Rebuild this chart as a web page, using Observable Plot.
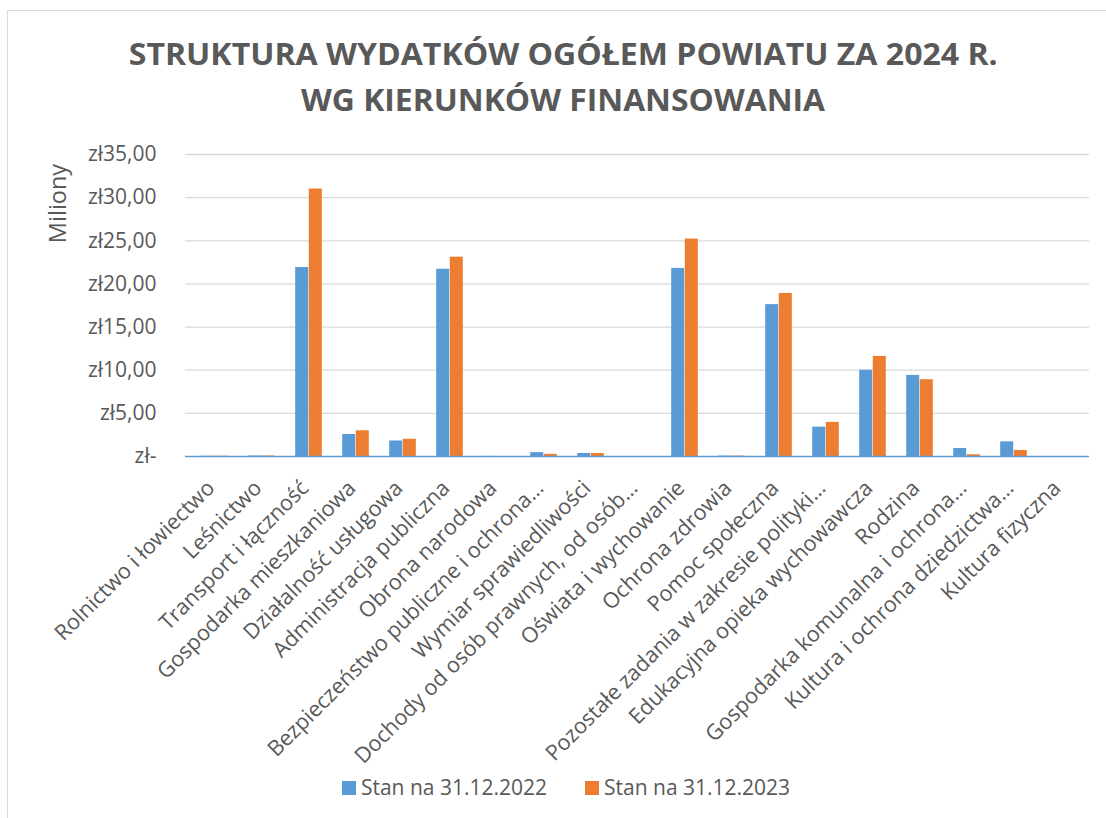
<!DOCTYPE html>
<html><head><meta charset="utf-8">
<script src="https://cdn.jsdelivr.net/npm/d3@7"></script>
<script src="https://cdn.jsdelivr.net/npm/@observablehq/plot@0.6"></script>
<style>
body{margin:0;background:#fff;font-family:"Open Sans",sans-serif;color:#595959;width:1106px;height:818px;overflow:hidden;position:relative;}
#frame{position:absolute;left:7px;top:10px;width:1200px;height:900px;border-left:1px solid #d9d9d9;border-top:1px solid #d9d9d9;}
.tl{position:absolute;left:0;width:1126px;text-align:center;font-weight:700;font-size:31px;line-height:31px;white-space:nowrap;color:#595959;}
.tl span{display:inline-block;transform-origin:center;}
#chart{position:absolute;left:0;top:130px;}
#legend{position:absolute;left:0;top:777px;width:1132px;display:flex;justify-content:center;font-size:21px;line-height:21px;color:#595959;}
#legend .it{display:flex;align-items:center;margin:0 19px;}
#legend .sw{width:14px;height:14px;margin-right:5px;}
</style></head>
<body>
<div id="frame"></div>
<div class="tl" style="top:37.5px"><span id="t1">STRUKTURA WYDATKÓW OGÓŁEM POWIATU ZA 2024 R.</span></div>
<div class="tl" style="top:83.5px"><span id="t2">WG KIERUNKÓW FINANSOWANIA</span></div>
<div id="chart"></div>
<div id="legend"></div>
<script>
const categories = [
  "Rolnictwo i łowiectwo","Leśnictwo","Transport i łączność","Gospodarka mieszkaniowa",
  "Działalność usługowa","Administracja publiczna","Obrona narodowa",
  "Bezpieczeństwo publiczne i ochrona…","Wymiar sprawiedliwości",
  "Dochody od osób prawnych, od osób…","Oświata i wychowanie","Ochrona zdrowia",
  "Pomoc społeczna","Pozostałe zadania w zakresie polityki…","Edukacyjna opieka wychowawcza",
  "Rodzina","Gospodarka komunalna i ochrona…","Kultura i ochrona dziedzictwa…","Kultura fizyczna"
];
const seriesNames = ["Stan na 31.12.2022","Stan na 31.12.2023"];
const values2022 = [0.03,0.06,21.9,2.55,1.8,21.7,0.01,0.45,0.35,0,21.8,0.05,17.6,3.4,10.0,9.4,0.93,1.7,0];
const values2023 = [0.03,0.06,31.0,2.98,2.0,23.1,0.0,0.25,0.35,0,25.2,0.05,18.9,3.95,11.6,8.9,0.2,0.7,0];
const seriesColors = ["#5B9BD5","#ED7D31"];
const yTicks = [0,5,10,15,20,25,30,35];
const yTickLabels = ["zł-","zł5,00","zł10,00","zł15,00","zł20,00","zł25,00","zł30,00","zł35,00"];

function fit(id, target){const el=document.getElementById(id);const w=el.getBoundingClientRect().width;el.style.transform=`scaleX(${target/w})`;}
fit("t1",869); fit("t2",524);

const rows = categories.flatMap((c,i)=>[
  {cat:c, series:seriesNames[0], v:values2022[i]},
  {cat:c, series:seriesNames[1], v:values2023[i]}
]);

const W=1106, H=680, ml=185, mr=17, mt=24, mb=354;
const step=(W-ml-mr)/categories.length;
const group=step/1.75, outer=(step-group)/2, half=group/2;

const chart = Plot.plot({
  width:W, height:H, marginLeft:ml, marginRight:mr, marginTop:mt, marginBottom:mb,
  style:{fontFamily:"Open Sans, sans-serif", fontSize:"21px", color:"#595959", background:"transparent"},
  x:{type:"band", domain:categories, padding:0},
  y:{domain:[0,35]},
  marks:[
    Plot.ruleY(yTicks.slice(1),{stroke:"#d9d9d9", strokeWidth:1.3}),
    Plot.barY(rows.filter(d=>d.series===seriesNames[0]),{x:"cat", y:"v", fill:seriesColors[0], insetLeft:outer, insetRight:outer+half}),
    Plot.barY(rows.filter(d=>d.series===seriesNames[1]),{x:"cat", y:"v", fill:seriesColors[1], insetLeft:outer+half, insetRight:outer}),
    Plot.ruleY([0],{stroke:"#5B9BD5", strokeWidth:1.5}),
    Plot.axisY({ticks:yTicks, tickFormat:d=>yTickLabels[yTicks.indexOf(d)], tickSize:0, tickPadding:29, fontSize:21, label:null}),
    Plot.axisX({tickRotate:-45, tickSize:0, tickPadding:28, dx:-4, fontSize:21.6, label:null}),
    Plot.text(["Miliony"],{frameAnchor:"top-left", textAnchor:"middle", lineAnchor:"middle", rotate:-90, dx:-127, dy:49, fontSize:23.5, fill:"#595959"})
  ]
});
document.getElementById("chart").appendChild(chart);

const lg=document.getElementById("legend");
seriesNames.forEach((s,i)=>{
  const it=document.createElement("div");it.className="it";
  const sw=document.createElement("div");sw.className="sw";sw.style.background=seriesColors[i];
  const tx=document.createElement("span");tx.textContent=s;
  it.appendChild(sw);it.appendChild(tx);lg.appendChild(it);
});
</script>
</body></html>
